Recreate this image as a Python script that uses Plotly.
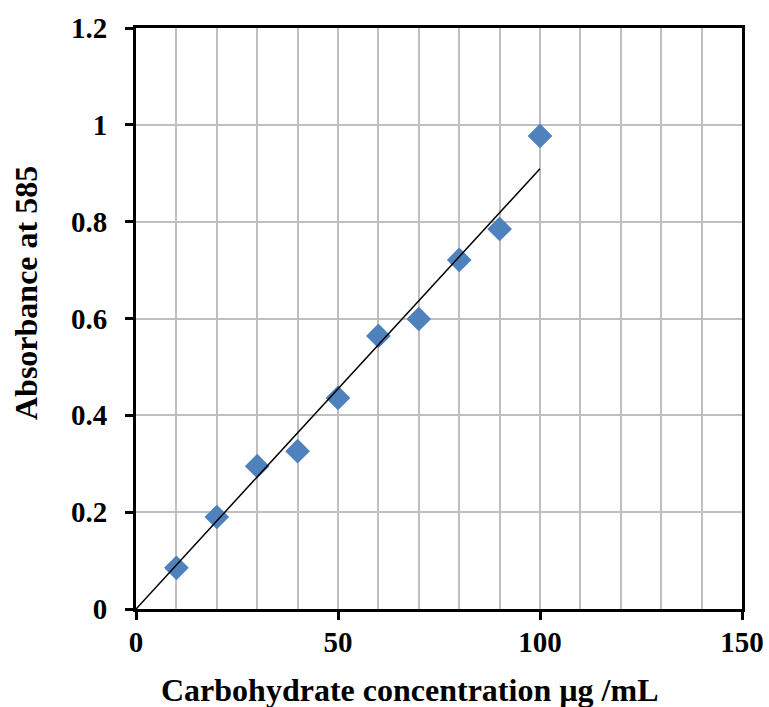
import numpy as np
import plotly.graph_objects as go

# Calibration data: carbohydrate standard concentration vs absorbance
concentration = [10, 20, 30, 40, 50, 60, 70, 80, 90, 100]
absorbance = [0.085, 0.190, 0.295, 0.326, 0.436, 0.564, 0.599, 0.721, 0.785, 0.977]

x_ticks = [0, 50, 100, 150]
y_ticks = [0, 0.2, 0.4, 0.6, 0.8, 1.0, 1.2]
y_tick_text = ["0", "0.2", "0.4", "0.6", "0.8", "1", "1.2"]

x_title = "Carbohydrate concentration µg /mL"
y_title = "Absorbance at 585"

# Linear trendline forced through the origin
xa = np.array(concentration, dtype=float)
ya = np.array(absorbance, dtype=float)
slope = float((xa * ya).sum() / (xa * xa).sum())
trend_x = [0, max(concentration)]
trend_y = [slope * v for v in trend_x]

FONT = "Liberation Serif"

fig = go.Figure()
fig.add_trace(go.Scatter(
    x=concentration, y=absorbance, mode="markers",
    marker=dict(symbol="diamond", size=19, color="#4F81BD", line=dict(width=0)),
    showlegend=False, cliponaxis=False,
))
fig.add_trace(go.Scatter(
    x=trend_x, y=trend_y, mode="lines",
    line=dict(color="black", width=1.5),
    showlegend=False,
))

axis_common = dict(
    showline=True, linecolor="black", linewidth=3, mirror=True,
    ticks="outside", ticklen=8, tickwidth=3, tickcolor="black",
    showgrid=True, gridcolor="#BFBFBF", gridwidth=1.5,
    zeroline=False, automargin=False,
    tickfont=dict(family=FONT, size=29, color="black", weight="bold"),
)

fig.update_xaxes(
    range=[0, 150], tickvals=x_ticks, ticktext=[str(v) for v in x_ticks],
    minor=dict(dtick=10, showgrid=True, gridcolor="#BFBFBF", gridwidth=1.5, ticks=""),
    ticklabelstandoff=-3,
    **axis_common,
)
fig.update_yaxes(
    range=[0, 1.2], tickvals=y_ticks, ticktext=y_tick_text,
    ticklabelstandoff=12,
    **axis_common,
)

title_font = dict(family=FONT, size=32, color="black")
fig.add_annotation(
    text="<b>" + x_title + "</b>", xref="paper", yref="paper",
    x=(410 - 136) / 606, y=-(690 - 609) / 581,
    xanchor="center", yanchor="middle", showarrow=False, font=title_font,
)
fig.add_annotation(
    text="<b>" + y_title + "</b>", xref="paper", yref="paper",
    x=-(136 - 26) / 606, y=(609 - 293) / 581, textangle=-90,
    xanchor="center", yanchor="middle", showarrow=False, font=title_font,
)

fig.update_layout(
    width=769, height=707,
    margin=dict(l=136, r=27, t=28, b=98),
    paper_bgcolor="white", plot_bgcolor="white",
)

fig.write_html("out.html")
